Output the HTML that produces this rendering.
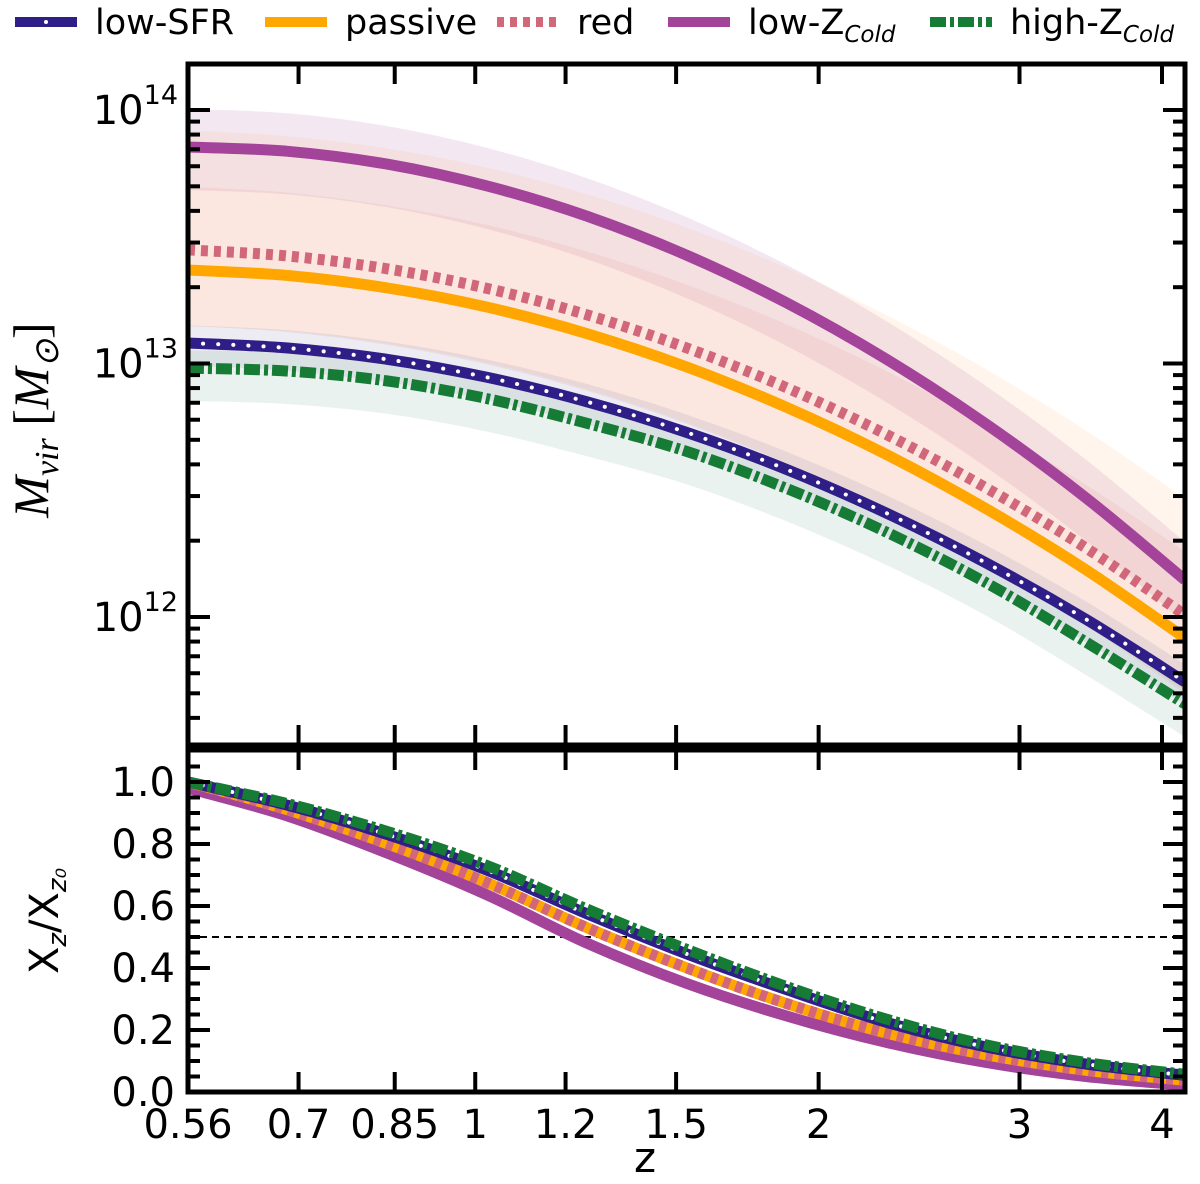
<!DOCTYPE html>
<html><head><meta charset="utf-8">
<style>
html,body{margin:0;padding:0;background:#fff;}
svg{display:block;font-family:"DejaVu Sans","Liberation Sans",sans-serif;}
</style></head>
<body>
<svg id="chart" width="1200" height="1184" viewBox="0 0 1200 1184" xmlns="http://www.w3.org/2000/svg"></svg>
<script>
// ---- data ----
const zGrid = [0.56,0.685,0.838,1.025,1.253,1.533,1.875,2.293,2.805,3.431,4.19];
const logMLowZ   = [13.854,13.837,13.786,13.700,13.581,13.427,13.239,13.017,12.761,12.470,12.146];
const logMRed    = [13.448,13.424,13.373,13.296,13.192,13.061,12.904,12.720,12.509,12.272,12.008];
const logMPassive= [13.369,13.347,13.298,13.222,13.118,12.986,12.827,12.641,12.427,12.186,11.917];
const logMLowSFR = [13.081,13.061,13.016,12.945,12.849,12.728,12.582,12.410,12.213,11.991,11.744];
const logMHighZ  = [12.982,12.970,12.931,12.861,12.764,12.653,12.507,12.335,12.135,11.901,11.657];
const bandLowZ   = [0.15,0.17];
const bandRed    = [0.25,0.30];
const bandPassive= [0.55,0.22];
const bandLowSFR = [0.07,0.09];
const bandHighZ  = [0.07,0.13];
const fracLowZ   = [0.98,0.89,0.77,0.635,0.48,0.35,0.245,0.16,0.095,0.05,0.022];
const fracRed    = [1.0,0.91,0.80,0.675,0.53,0.40,0.285,0.19,0.12,0.07,0.038];
const fracPassive= [1.0,0.91,0.80,0.675,0.53,0.40,0.285,0.19,0.12,0.07,0.038];
const fracLowSFR = [1.0,0.925,0.83,0.715,0.575,0.445,0.33,0.225,0.145,0.09,0.054];
const fracHighZ  = [1.0,0.93,0.84,0.73,0.59,0.46,0.34,0.235,0.152,0.095,0.057];
const xTicks = [0.56,0.7,0.85,1,1.2,1.5,2,3,4];
const xTickLabels = ["0.56","0.7","0.85","1","1.2","1.5","2","3","4"];
const yTopTicks = [12,13,14];
const yBotTicks = [0,0.2,0.4,0.6,0.8,1.0];
const yBotTickLabels = ["0.0","0.2","0.4","0.6","0.8","1.0"];

// ---- geometry ----
const L=188,R=1185,T1=64,B1=745,T2=750,B2=1092;
const xmin=0.56,xmax=4.19;
const X=z=>L+(Math.log10(z)-Math.log10(xmin))/(Math.log10(xmax)-Math.log10(xmin))*(R-L);
const Ytop=lm=>110+(14-lm)*253.5;
const Ybot=v=>1092-v*310;
const NS="http://www.w3.org/2000/svg";
const svg=document.getElementById('chart');
function mk(tag,attrs,parent){const e=document.createElementNS(NS,tag);for(const k in attrs)e.setAttribute(k,attrs[k]);(parent||svg).appendChild(e);return e;}

const defs=mk('defs',{});
const c1=mk('clipPath',{id:'c1'},defs);mk('rect',{x:L,y:T1,width:R-L,height:B1-T1},c1);
const c2=mk('clipPath',{id:'c2'},defs);mk('rect',{x:L,y:T2,width:R-L,height:B2-T2},c2);
const g1=mk('g',{'clip-path':'url(#c1)'});


const g2=mk('g',{'clip-path':'url(#c2)'});



const series=[
 {name:'low-z-cold',m:logMLowZ,b:bandLowZ,f:fracLowZ,color:'#a4439a',band:'#a4439a',style:'solid'},
 {name:'red',m:logMRed,b:bandRed,f:fracRed,color:'#d16779',band:'#e08090',style:'dot'},
 {name:'passive',m:logMPassive,b:bandPassive,f:fracPassive,color:'#ffa600',band:'#ffb070',style:'solid'},
 {name:'low-sfr',m:logMLowSFR,b:bandLowSFR,f:fracLowSFR,color:'#2f1e87',band:'#6a6a9a',style:'dots'},
 {name:'high-z-cold',m:logMHighZ,b:bandHighZ,f:fracHighZ,color:'#167b34',band:'#5a9a80',style:'dashdot'}
];
function smooth(pts){let d='M'+pts[0][0].toFixed(1)+','+pts[0][1].toFixed(1);for(let i=0;i<pts.length-1;i++){const p0=pts[i-1]||pts[i],p1=pts[i],p2=pts[i+1],p3=pts[i+2]||p2;
 d+=' C'+(p1[0]+(p2[0]-p0[0])/6).toFixed(1)+','+(p1[1]+(p2[1]-p0[1])/6).toFixed(1)+' '+(p2[0]-(p3[0]-p1[0])/6).toFixed(1)+','+(p2[1]-(p3[1]-p1[1])/6).toFixed(1)+' '+p2[0].toFixed(1)+','+p2[1].toFixed(1);}return d;}

series.forEach(s=>{
 const up=zGrid.map((z,i)=>[X(z),Ytop(s.m[i]+s.b[0])]);
 const dn=zGrid.map((z,i)=>[X(z),Ytop(s.m[i]-s.b[1])]).reverse();
 const d=smooth(up)+' L'+dn[0][0].toFixed(1)+','+dn[0][1].toFixed(1)+' '+smooth(dn).replace(/^M[^C]*/,'')+' Z';
 const p=mk('path',{d:d,fill:s.band,'fill-opacity':0.13,stroke:'none'},g1);
 
 
});
function drawLine(s,pts,g,w,suffix){
 const d=smooth(pts);
 let p;
 if(s.style==='solid'){p=mk('path',{d,fill:'none',stroke:s.color,'stroke-width':w},g);}
 else if(s.style==='dot'){p=mk('path',{d,fill:'none',stroke:s.color,'stroke-width':w,'stroke-dasharray':'7,6'},g);}
 else if(s.style==='dots'){p=mk('path',{d,fill:'none',stroke:s.color,'stroke-width':w},g);
  mk('path',{d,fill:'none',stroke:'#fff','stroke-width':4,'stroke-linecap':'round','stroke-dasharray':'0.1,15'},g);}
 else {p=mk('path',{d,fill:'none',stroke:s.color,'stroke-width':w,'stroke-dasharray':'16,4,4,4'},g);}
 
 
}
series.forEach(s=>drawLine(s,zGrid.map((z,i)=>[X(z),Ytop(s.m[i])]),g1,11,'-mass-line'));
const dash=mk('line',{x1:L,x2:R,y1:Ybot(0.5),y2:Ybot(0.5),stroke:'#000','stroke-width':2,'stroke-dasharray':'7,5'},g2);


[series[0],series[2],series[1],series[3],series[4]].forEach(s=>drawLine(s,zGrid.map((z,i)=>[X(z),Ybot(s.f[i])]),g2,11,'-fraction-line'));

function tick(x1,y1,x2,y2){mk('line',{x1,y1,x2,y2,stroke:'#000','stroke-width':4});}
[[T1,B1],[T2,B2]].forEach(([t,b],k)=>{
 const r=mk('rect',{x:L,y:t,width:R-L,height:b-t,fill:'none',stroke:'#000','stroke-width':5});
 
 
 xTicks.forEach(z=>{const x=X(z);tick(x,t,x,t+20);tick(x,b,x,b-20);});
});
for(let d=11;d<=14;d++){for(let m=1;m<10;m++){const lm=d+Math.log10(m);const y=Ytop(lm);if(y<T1||y>B1)continue;const len=m===1?22:12;tick(L,y,L+len,y);tick(R,y,R-len,y);}}
yTopTicks.forEach(p=>{const y=Ytop(p);const t=mk('text',{x:178,y:y+14,'font-size':40,'text-anchor':'end'});t.textContent='10';
 const s=mk('tspan',{dy:-20,'font-size':27},t);s.textContent=String(p);
 
 });
for(let i=0;i<=21;i++){const v=i*0.05;const y=Ybot(v);if(y<T2)continue;const maj=i%4===0;tick(L,y,L+(maj?22:12),y);tick(R,y,R-(maj?22:12),y);}
yBotTicks.forEach((v,i)=>{const t=mk('text',{x:175,y:Ybot(v)+14,'font-size':40,'text-anchor':'end'});t.textContent=yBotTickLabels[i];
 
 });
xTicks.forEach((z,i)=>{const t=mk('text',{x:X(z),y:1138,'font-size':40,'text-anchor':'middle'});t.textContent=xTickLabels[i];
 
 });
let t=mk('text',{x:645,y:1172,'font-size':42,'text-anchor':'middle'});t.textContent='z';


t=mk('text',{transform:'translate(48,420) rotate(-90)','font-size':50,'text-anchor':'middle','font-family':'Liberation Serif, serif','font-style':'italic'});
t.innerHTML='M<tspan font-size="34" dy="10">vir</tspan><tspan dy="-10" font-style="normal"> [</tspan>M<tspan font-size="34" dy="10">⊙</tspan><tspan dy="-10" font-style="normal">]</tspan>';


t=mk('text',{transform:'translate(58,921) rotate(-90)','font-size':40,'text-anchor':'middle'});
t.innerHTML='X<tspan font-size="26" dy="8" font-style="italic">z</tspan><tspan dy="-8">/X</tspan><tspan font-size="26" dy="8" font-style="italic">z₀</tspan>';



const legend=[
 {label:'low-SFR',s:series[3],x:15},{label:'passive',s:series[2],x:265},{label:'red',s:series[1],x:497},
 {label:'low-Z',sub:'Cold',s:series[0],x:668},{label:'high-Z',sub:'Cold',s:series[4],x:930}];
legend.forEach(e=>{
 const g=mk('g',{});
 
 
 const y=22;const x1=e.x,x2=e.x+62;
 let da=e.s.style==='dot'?'7,6':e.s.style==='dashdot'?'16,4,4,4':'none';
 mk('line',{x1,y1:y,x2,y2:y,stroke:e.s.color,'stroke-width':10,'stroke-dasharray':da},g);
 if(e.s.style==='dots')mk('circle',{cx:(x1+x2)/2,cy:y,r:2,fill:'#fff'},g);
 const tx=mk('text',{x:x2+18,y:y+12,'font-size':35},g);tx.textContent=e.label;
 if(e.sub){const sp=mk('tspan',{'font-size':23,dy:8,'font-style':'italic'},tx);sp.textContent=e.sub;}
});
</script>
</body></html>
